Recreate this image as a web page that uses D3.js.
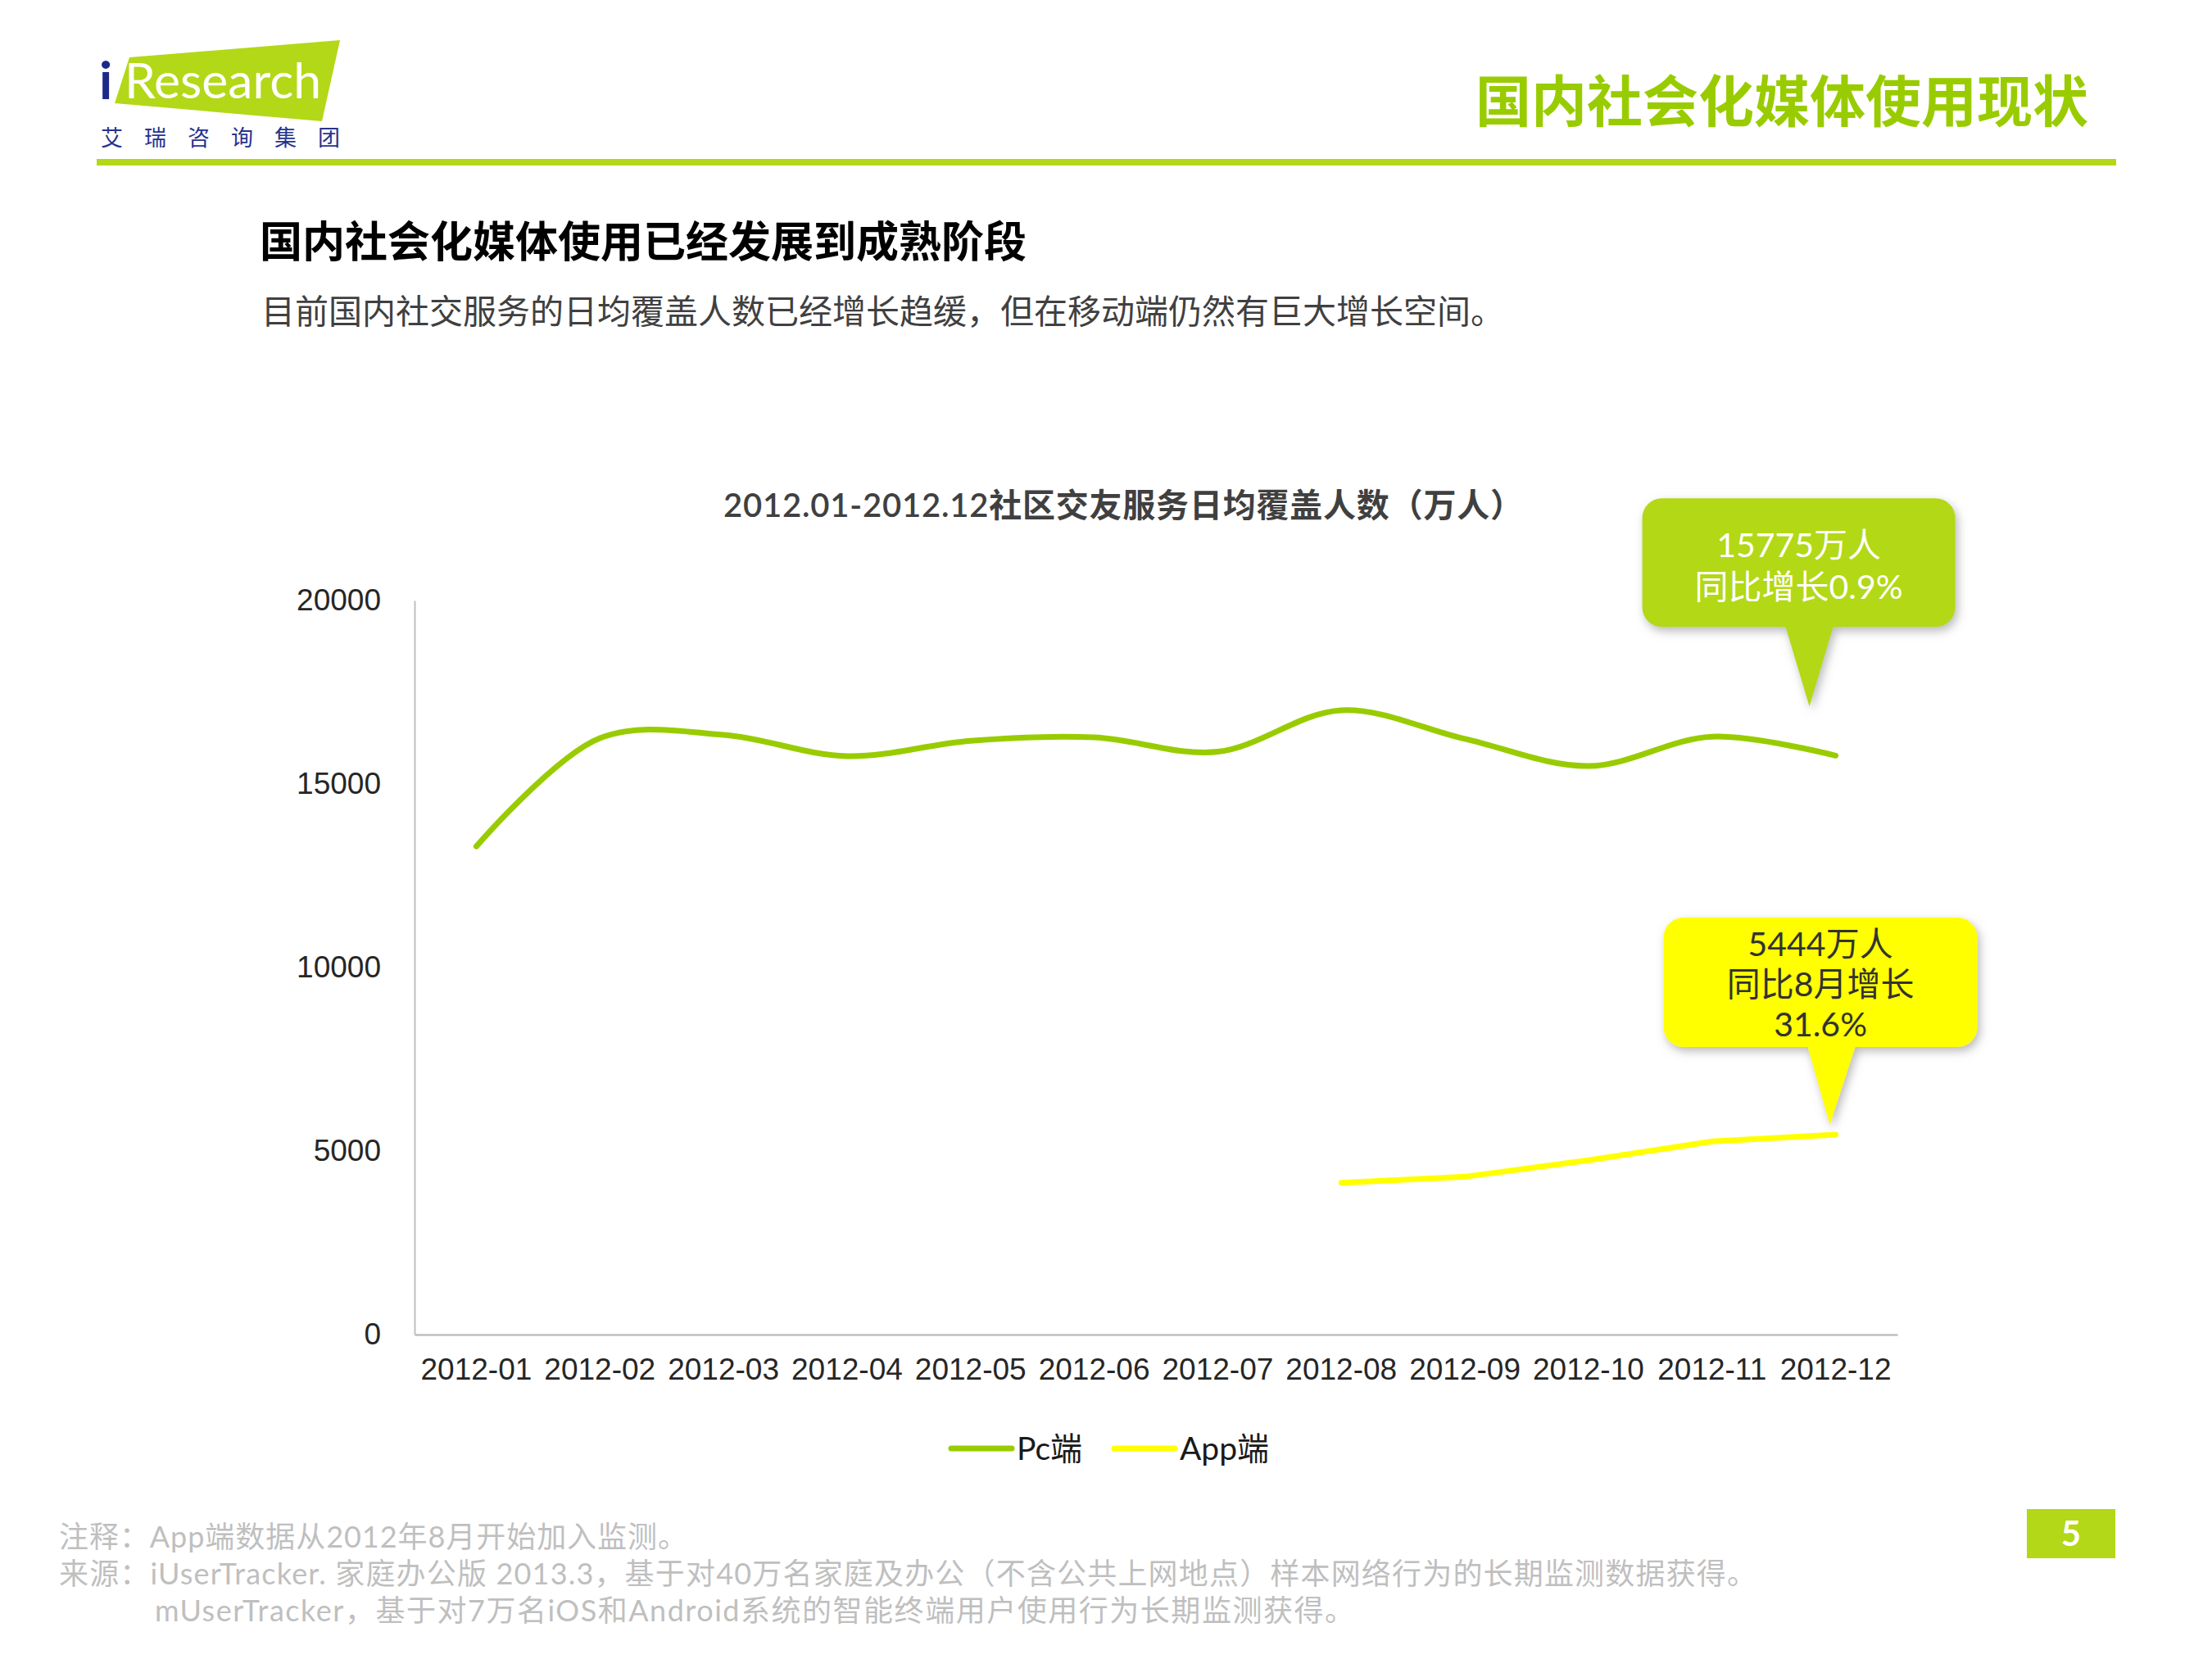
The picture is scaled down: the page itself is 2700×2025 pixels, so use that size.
<!DOCTYPE html>
<html>
<head>
<meta charset="utf-8">
<script src="https://cdn.jsdelivr.net/npm/d3@7"></script>
<style>
  body { margin: 0; background: #fff; }
  svg { display: block; font-family: "Lato", "Noto Sans CJK SC", sans-serif; }
</style>
</head>
<body>
<svg id="drawing_region"></svg>
<script>
// chart values
const months = ['2012-01','2012-02','2012-03','2012-04','2012-05','2012-06',
                '2012-07','2012-08','2012-09','2012-10','2012-11','2012-12'];
const pcValues  = [13300, 16250, 16340, 15760, 16180, 16270, 15880, 17010, 16230, 15490, 16290, 15775];
const appValues = [null, null, null, null, null, null, null, 4137, 4300, 4750, 5260, 5444];
const yTicks = [0, 5000, 10000, 15000, 20000];
const seriesNames = ['Pc端', 'App端'];
const pcNote  = ['15775万人', '同比增长0.9%'];
const appNote = ['5444万人', '同比8月增长', '31.6%'];

const chartTitle = '2012.01-2012.12社区交友服务日均覆盖人数（万人）';
const pageTitle = '国内社会化媒体使用现状';
const heading = '国内社会化媒体使用已经发展到成熟阶段';
const subHeading = '目前国内社交服务的日均覆盖人数已经增长趋缓，但在移动端仍然有巨大增长空间。';
const footNotes = [
    '注释：App端数据从2012年8月开始加入监测。',
    '来源：iUserTracker. 家庭办公版 2013.3，基于对40万名家庭及办公（不含公共上网地点）样本网络行为的长期监测数据获得。',
    'mUserTracker，基于对7万名iOS和Android系统的智能终端用户使用行为长期监测获得。'
];

const GREEN = '#99cc00';
const BRAND = '#b3d817';
const YELLOW = '#ffff00';

const svg = d3.select('#drawing_region')
    .attr('width', 2700)
    .attr('height', 2025);

// drop shadow for the callouts
svg.append('defs').append('filter')
    .attr('id', 'shadow')
    .attr('x', '-20%').attr('y', '-20%').attr('width', '140%').attr('height', '140%')
    .append('feDropShadow')
    .attr('dx', 3).attr('dy', 5).attr('stdDeviation', 6)
    .attr('flood-color', '#7f7f7f').attr('flood-opacity', 0.55);

// ---- page header ----
svg.append('polygon')
    .attr('points', '158,70 415,49 393,148 140,126')
    .attr('fill', BRAND);
svg.append('text')
    .attr('x', 121).attr('y', 121)
    .attr('font-size', 64).attr('font-weight', 'bold')
    .attr('fill', '#1c2a8a')
    .text('i');
svg.append('text')
    .attr('x', 152).attr('y', 120)
    .attr('font-size', 60)
    .attr('textLength', 240).attr('lengthAdjust', 'spacingAndGlyphs')
    .attr('fill', '#fff')
    .text('Research');
svg.append('text')
    .attr('x', 123).attr('y', 178)
    .attr('font-size', 27)
    .attr('font-family', 'Noto Sans CJK SC')
    .attr('textLength', 292)
    .attr('fill', '#26348f')
    .text('艾瑞咨询集团');

svg.append('text')
    .attr('x', 2549).attr('y', 149)
    .attr('text-anchor', 'end')
    .attr('font-size', 68).attr('font-weight', 'bold')
    .attr('font-family', 'Noto Sans CJK SC')
    .attr('fill', GREEN)
    .text(pageTitle);

svg.append('rect')
    .attr('x', 118).attr('y', 194)
    .attr('width', 2465).attr('height', 8)
    .attr('fill', BRAND);

svg.append('text')
    .attr('x', 317).attr('y', 314)
    .attr('font-size', 52).attr('font-weight', 'bold')
    .attr('font-family', 'Noto Sans CJK SC')
    .attr('fill', '#000')
    .text(heading);

svg.append('text')
    .attr('x', 319).attr('y', 395)
    .attr('font-size', 41)
    .attr('font-family', 'Noto Sans CJK SC')
    .attr('fill', '#404040')
    .text(subHeading);

// ---- chart ----
class LineChart {

    constructor( config ) {
        this.config = config;
        this.init();
    }

    init() {
        let self = this;
        const m = self.config.margin;
        self.chart = svg.append('g')
            .attr('transform', `translate(${m.left}, ${m.top})`);
        self.inner_width = self.config.width - m.left - m.right;
        self.inner_height = self.config.height - m.top - m.bottom;
    }

    update() {
        let self = this;

        self.xscale = d3.scaleBand()
            .domain(months)
            .range([0, self.inner_width]);

        self.yscale = d3.scaleLinear()
            .domain([0, 20000])
            .range([self.inner_height, 0]);

        self.xaxis = d3.axisBottom( self.xscale )
            .tickSize(0)
            .tickSizeOuter(0);

        self.yaxis = d3.axisLeft( self.yscale )
            .tickValues(yTicks)
            .tickFormat(d3.format('d'))
            .tickSize(0)
            .tickSizeOuter(0)
            .tickPadding(41);

        self.render();
    }

    px( i ) {
        return this.xscale(months[i]) + this.xscale.bandwidth() / 2;
    }

    render() {
        let self = this;

        const xg = self.chart.append('g')
            .attr('transform', `translate(0, ${self.inner_height})`)
            .call( self.xaxis );
        xg.select('.domain').attr('stroke', '#bfbfbf').attr('stroke-width', 2.5);
        xg.selectAll('text')
            .attr('y', 42).attr('dy', '0.35em')
            .attr('font-size', 37).attr('fill', '#262626');

        const yg = self.chart.append('g')
            .call( self.yaxis );
        yg.select('.domain').attr('stroke', '#bfbfbf').attr('stroke-width', 2);
        yg.selectAll('text')
            .attr('font-size', 37).attr('fill', '#262626');

        self.chart.append('text')
            .attr('x', self.inner_width / 2 - 40)
            .attr('y', -116)
            .attr('dy', '0.35em')
            .attr('text-anchor', 'middle')
            .attr('font-size', 40).attr('font-weight', 600)
            .attr('textLength', 976)
            .attr('fill', '#404040')
            .text(chartTitle);

        const pcLine = d3.line()
            .x((d, i) => self.px(i))
            .y(d => self.yscale(d))
            .curve(d3.curveCatmullRom.alpha(0.5));

        const appLine = d3.line()
            .defined(d => d != null)
            .x((d, i) => self.px(i))
            .y(d => self.yscale(d));

        self.chart.append('path')
            .datum(pcValues)
            .attr('fill', 'none')
            .attr('stroke', GREEN)
            .attr('stroke-width', 7)
            .attr('stroke-linecap', 'round')
            .attr('d', pcLine);

        self.chart.append('path')
            .datum(appValues)
            .attr('fill', 'none')
            .attr('stroke', YELLOW)
            .attr('stroke-width', 7)
            .attr('stroke-linecap', 'round')
            .attr('d', appLine);

        const last = months.length - 1;
        self.callout(self.px(last) - 32, self.yscale(pcValues[last]) - 60,
            {left: 204, right: 178, top: 254, bottom: 97, baseL: 29, baseR: 29},
            BRAND, '#fff', pcNote, 51, 4);
        self.callout(self.px(last) - 7, self.yscale(appValues[last]) - 12,
            {left: 203, right: 180, top: 253, bottom: 95, baseL: 27, baseR: 31},
            YELLOW, '#333', appNote, 49, 3);

        // legend
        const legend = self.chart.append('g')
            .attr('transform', `translate(0, ${1768 - self.config.margin.top})`);
        const lx = [1161, 1360].map(v => v - self.config.margin.left);
        [GREEN, YELLOW].forEach((c, i) => {
            legend.append('line')
                .attr('x1', lx[i]).attr('x2', lx[i] + 74)
                .attr('stroke', c).attr('stroke-width', 7)
                .attr('stroke-linecap', 'round');
            legend.append('text')
                .attr('x', lx[i] + 80)
                .attr('dy', '0.35em')
                .attr('font-size', 39).attr('fill', '#1a1a1a')
                .text(seriesNames[i]);
        });
    }

    callout( tx, ty, s, fill, color, lines, gap, shift ) {
        let self = this;
        const r = 24;
        const L = tx - s.left, R = tx + s.right, T = ty - s.top, B = ty - s.bottom;
        const p = d3.path();
        p.moveTo(L + r, T);
        p.lineTo(R - r, T);
        p.arcTo(R, T, R, T + r, r);
        p.lineTo(R, B - r);
        p.arcTo(R, B, R - r, B, r);
        p.lineTo(tx + s.baseR, B);
        p.lineTo(tx, ty);
        p.lineTo(tx - s.baseL, B);
        p.lineTo(L + r, B);
        p.arcTo(L, B, L, B - r, r);
        p.lineTo(L, T + r);
        p.arcTo(L, T, L + r, T, r);
        p.closePath();

        self.chart.append('path')
            .attr('d', p.toString())
            .attr('fill', fill)
            .attr('filter', 'url(#shadow)');

        const cx = (L + R) / 2;
        const cy = (T + B) / 2;
        const g = self.chart.append('g');
        lines.forEach((t, i) => {
            g.append('text')
                .attr('x', cx)
                .attr('y', cy + (i - (lines.length - 1) / 2) * gap + shift)
                .attr('dy', '0.35em')
                .attr('text-anchor', 'middle')
                .attr('font-size', 41)
                .attr('fill', color)
                .text(t);
        });
    }
}

const line_chart = new LineChart({
    width: 2316,
    height: 1629,
    margin: {top: 733, right: 0, bottom: 0, left: 506}
});
line_chart.update();

// ---- footer ----
const foot = svg.append('g')
    .attr('font-size', 36)
    .attr('fill', '#bfbfbf');
[[72, 1876, 767], [72, 1921, 2072], [189, 1966, 1464]].forEach((p, i) => {
    foot.append('text')
        .attr('x', p[0]).attr('y', p[1])
        .attr('dy', '0.35em')
        .attr('textLength', p[2])
        .text(footNotes[i]);
});

svg.append('rect')
    .attr('x', 2474).attr('y', 1842)
    .attr('width', 108).attr('height', 60)
    .attr('fill', BRAND);
svg.append('text')
    .attr('x', 2528).attr('y', 1872)
    .attr('dy', '0.35em')
    .attr('text-anchor', 'middle')
    .attr('font-size', 42).attr('font-weight', 'bold')
    .attr('fill', '#fff')
    .text('5');
</script>
</body>
</html>
